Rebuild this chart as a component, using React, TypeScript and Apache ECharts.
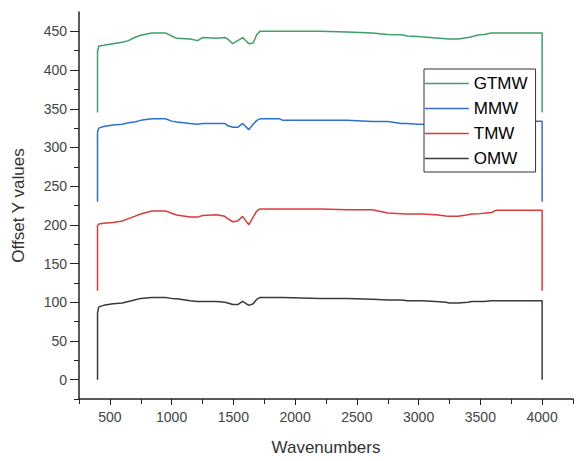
import React, { useEffect, useRef } from "react";
import * as echarts from "echarts";

const wavenumbers = [
  400, 400, 410, 450, 525, 600, 650, 700, 750, 840, 950, 1000, 1040, 1150, 1210,
  1250, 1365, 1430, 1455, 1495, 1535, 1575, 1625, 1660, 1690, 1715, 1875, 1900,
  2200, 2420, 2625, 2750, 2860, 2910, 2990, 3020, 3140, 3220, 3250, 3320, 3400,
  3430, 3490, 3530, 3590, 3630, 4000, 4000,
];

const gtmw = [
  345, 424, 431, 432, 434, 436, 438, 442, 445, 448, 448, 444, 441, 440, 438,
  442, 441, 442, 440, 434, 438, 442, 434, 435, 446, 450, 450, 450,
  450, 449, 448, 446, 445.5, 444, 443.5, 443, 441.5, 440.5, 440, 440, 442,
  443, 445.5, 446, 448, 448, 448, 345,
];

const mmw = [
  230, 320, 325, 327, 329, 330, 332, 333, 335, 337, 337, 334, 333, 331, 330,
  331, 331, 331, 328, 326, 326, 331, 323, 330, 335, 337, 337, 335,
  335, 335, 333.5, 333.5, 331, 331, 330, 330, 329, 328, 328, 328, 329,
  330, 331, 332, 333, 334, 334, 230,
];

const tmw = [
  115, 199, 201, 202, 203, 205, 208, 211, 214, 218, 218, 215, 212.7, 210, 210,
  212, 213, 211, 208, 204, 205, 211, 200, 210, 218, 220.5, 220.5, 220.5,
  220.5, 219.6, 219.6, 215.3, 214.5, 214, 214, 214, 213, 211.5, 211, 211, 213,
  214, 214.5, 215, 216, 219, 219, 115,
];

const omw = [
  0, 86, 94, 96, 98, 99, 101, 103, 105, 106, 106, 105, 104.5, 102, 101,
  101, 101, 100, 99, 97, 97, 101, 96, 98, 104, 106, 106, 106,
  105, 105, 104, 103, 103, 102, 102, 102, 101, 100, 99, 99, 100,
  101, 101, 101, 102, 102, 102, 0,
];

const seriesNames = ["GTMW", "MMW", "TMW", "OMW"];
const seriesValues = [gtmw, mmw, tmw, omw];
const seriesColors = ["#3f9f64", "#2f6fcf", "#dc3b3b", "#3a3a3a"];

const yMajorTicks = [0, 50, 100, 150, 200, 250, 300, 350, 400, 450];
const yMinorTicks = [-25, 25, 75, 125, 175, 225, 275, 325, 375, 425];
const xMajorTicks = [500, 1000, 1500, 2000, 2500, 3000, 3500, 4000];
const xMinorTicks = [250, 750, 1250, 1750, 2250, 2750, 3250, 3750, 4250];

const FONT = "Liberation Sans, Arial, sans-serif";

export default function App() {
  const ref = useRef<HTMLDivElement>(null);

  useEffect(() => {
    if (!ref.current) return;
    const chart = echarts.init(ref.current, undefined, { renderer: "svg" });
    const axisLine = { show: true, onZero: false, lineStyle: { color: "#222", width: 1.5 } };
    const xBase = { type: "value", min: 250, max: 4250, position: "bottom", splitLine: { show: false } };
    const yBase = { type: "value", min: -25, max: 475, position: "left", splitLine: { show: false } };
    const plain = (v: number) => String(v);
    chart.setOption({
      animation: false,
      backgroundColor: "#fff",
      textStyle: { fontFamily: FONT },
      grid: { left: 79, top: 12, right: 3, bottom: 57, containLabel: false },
      legend: {
        data: seriesNames,
        orient: "vertical",
        left: 424,
        top: 69,
        itemWidth: 44,
        itemHeight: 14,
        itemGap: 8,
        padding: [6, 8, 5, 0],
        backgroundColor: "#fff",
        borderColor: "#333",
        borderWidth: 1,
        borderRadius: 0,
        itemStyle: { opacity: 0 },
        lineStyle: { width: 1.5 },
        textStyle: { fontSize: 17, color: "#000", fontFamily: FONT },
      },
      xAxis: [
        {
          ...xBase,
          name: "Wavenumbers",
          nameLocation: "middle",
          nameGap: 40,
          nameTextStyle: { fontSize: 17, color: "#333", fontFamily: FONT },
          axisLine,
          axisTick: { show: true, customValues: xMajorTicks, length: 6, lineStyle: { color: "#222" } },
          axisLabel: { customValues: xMajorTicks, formatter: plain, fontSize: 14, color: "#444", margin: 11, fontFamily: FONT },
        },
        {
          ...xBase,
          axisLine: { show: false, onZero: false },
          axisTick: { show: true, customValues: xMinorTicks, length: 5, lineStyle: { color: "#222" } },
          axisLabel: { show: false },
        },
      ],
      yAxis: [
        {
          ...yBase,
          name: "Offset Y values",
          nameLocation: "middle",
          nameGap: 52,
          nameTextStyle: { fontSize: 17, color: "#333", fontFamily: FONT },
          axisLine,
          axisTick: { show: true, customValues: yMajorTicks, length: 9, lineStyle: { color: "#222" } },
          axisLabel: { customValues: yMajorTicks, formatter: plain, fontSize: 14, color: "#444", margin: 12, fontFamily: FONT },
        },
        {
          ...yBase,
          axisLine: { show: false, onZero: false },
          axisTick: { show: true, customValues: yMinorTicks, length: 5, lineStyle: { color: "#222" } },
          axisLabel: { show: false },
        },
      ],
      series: seriesNames.map((name, i) => ({
        name,
        type: "line",
        xAxisIndex: 0,
        yAxisIndex: 0,
        symbol: "none",
        color: seriesColors[i],
        lineStyle: { width: 1.5, color: seriesColors[i] },
        data: wavenumbers.map((w, j) => [w, seriesValues[i][j]]),
      })),
    });
    return () => chart.dispose();
  }, []);

  return (
    <div
      ref={ref}
      style={{ position: "fixed", left: 0, top: 0, width: 576, height: 461 }}
    />
  );
}
